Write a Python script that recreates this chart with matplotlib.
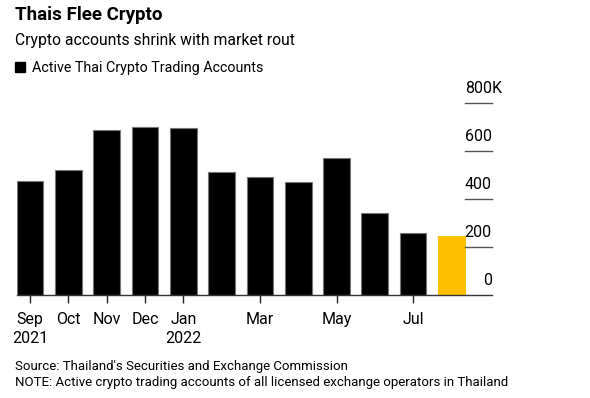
import numpy as np
import matplotlib
matplotlib.use("Agg")
from matplotlib import pyplot as plt
from matplotlib import transforms

plt.rcParams['font.family'] = ['Roboto', 'DejaVu Sans']

# monthly active accounts, thousands (Sep 2021 - Aug 2022)
months = ["Sep", "Oct", "Nov", "Dec", "Jan", "Feb", "Mar", "Apr", "May", "Jun", "Jul", "Aug"]
accounts = [476, 521, 686, 700, 694, 512, 493, 472, 571, 342, 260, 246]
tick_pos = [0, 1, 2, 3, 4, 6, 8, 10]
tick_labels = ["Sep\n2021", "Oct", "Nov", "Dec", "Jan\n2022", "Mar", "May", "Jul"]
y_ticks = [0, 200, 400, 600, 800]

fig = plt.figure(figsize=(5.9, 3.98), dpi=100)
ax = fig.add_axes([0.0283, 0.258, 0.805, 0.4832])

x = np.arange(len(accounts))
colors = ["black"] * (len(accounts) - 1) + ["#FCC000"]
edges = ["#777777"] * (len(accounts) - 1) + ["#FCC000"]
ax.bar(x, accounts, width=0.696, color=colors, edgecolor=edges, linewidth=0.8, zorder=2)

ax.set_xlim(-0.35, 12.05)
ax.set_ylim(0, 800)
for s in ax.spines.values():
    s.set_visible(False)
ax.set_yticks([])
ax.axhline(0, color="#333333", lw=1.0, zorder=3, clip_on=False)

ax.set_xticks(tick_pos)
ax.set_xticklabels(tick_labels, fontsize=11.5, linespacing=1.3)
ax.tick_params(axis="x", length=6, width=1, color="#222222", pad=6)

# short gridlines on the right with labels above them
trans = transforms.blended_transform_factory(ax.transAxes, ax.transData)
for v in y_ticks:
    if v > 0:
        ax.plot([0.944, 1.0], [v, v], color="#555555", lw=1.0, transform=trans, clip_on=False)
    ax.text(1.0, v + 30, str(v), transform=trans, ha="right", va="bottom", fontsize=11.5)
ax.text(1.0, 830, "K", transform=trans, ha="left", va="bottom", fontsize=11.5)

fig.text(0.025, 0.962, "Thais Flee Crypto", fontsize=13.5, fontweight="bold", va="center")
fig.text(0.025, 0.898, "Crypto accounts shrink with market rout", fontsize=11.3, va="center")
fig.patches.append(plt.Rectangle((0.026, 0.82), 0.016, 0.025, color="black",
                                 transform=fig.transFigure, figure=fig))
fig.text(0.054, 0.83, "Active Thai Crypto Trading Accounts", fontsize=10.3, va="center")

fig.text(0.025, 0.079, "Source: Thailand's Securities and Exchange Commission", fontsize=9.5, va="center")
fig.text(0.025, 0.040, "NOTE: Active crypto trading accounts of all licensed exchange operators in Thailand",
         fontsize=9.5, va="center")

fig.savefig("out.png", dpi=100)
